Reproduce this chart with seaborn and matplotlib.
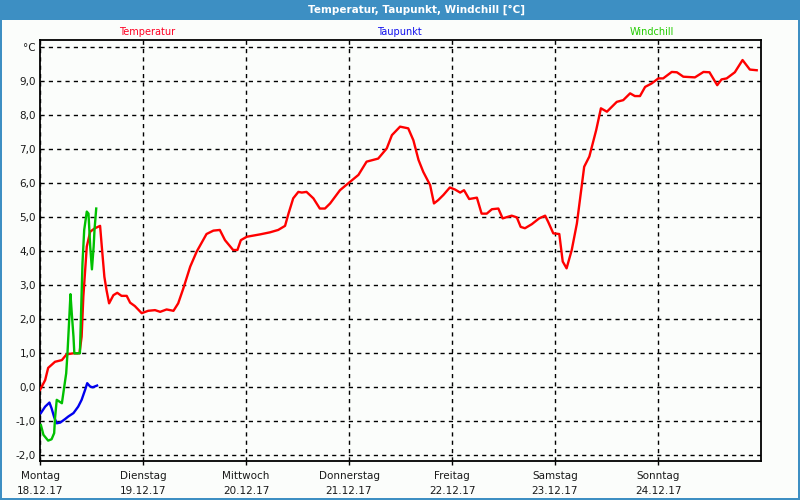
import matplotlib
matplotlib.use("Agg")
import matplotlib.pyplot as plt
from matplotlib.patches import Rectangle
import seaborn as sns
import pandas as pd

# ---- data (hours since Mon 18.12.17 00:00, °C) ----
temp_hours = [0, 1.2, 1.9, 3.5, 5.1, 6.2, 7.8, 9.2, 9.7, 10.1, 10.9, 11.7, 12.8, 14.0, 14.4,
              15.0, 15.5, 16.1, 17.1, 18.0, 19.0, 20.2, 21.0, 22.1, 23.7, 25.2, 26.8, 28.0,
              29.5, 31.1, 32.2, 33.4, 35.0, 36.5, 38.8, 40.4, 41.9, 43.1, 45.0, 46.0, 46.8,
              48.2, 51.3, 53.6, 55.5, 57.1, 57.9, 59.0, 60.2, 61.0, 62.1, 63.7, 65.2, 66.4,
              67.6, 69.9, 71.8, 74.2, 76.1, 78.8, 80.8, 82.0, 83.9, 85.8, 87.0, 88.2, 89.3,
              90.9, 91.8, 92.8, 94.0, 95.5, 96.7, 97.9, 98.8, 100.0, 101.8, 102.9, 104.1,
              105.3, 106.8, 107.8, 109.9, 111.1, 112.0, 113.0, 114.6, 116.3, 117.7, 118.4,
              119.6, 121.0, 121.8, 122.7, 123.9, 125.1, 126.2, 126.8, 128.0, 129.6, 130.7,
              132.1, 134.4, 135.9, 137.5, 138.6, 139.8, 141.0, 142.5, 144.1, 145.2, 147.2,
              148.4, 149.9, 152.6, 154.6, 156.0, 157.8, 158.8, 160.0, 161.9, 163.7, 165.4, 167.0]
temp_values = [-0.09, 0.2, 0.56, 0.74, 0.79, 0.96, 0.99, 0.99, 1.48, 2.66, 4.13, 4.57, 4.67,
               4.74, 4.13, 3.24, 2.85, 2.46, 2.7, 2.77, 2.68, 2.68, 2.48, 2.38, 2.17, 2.24,
               2.26, 2.21, 2.28, 2.24, 2.46, 2.9, 3.54, 3.98, 4.5, 4.6, 4.62, 4.32, 4.03,
               4.03, 4.32, 4.42, 4.49, 4.55, 4.62, 4.74, 5.1, 5.55, 5.74, 5.72, 5.74, 5.55,
               5.25, 5.25, 5.4, 5.79, 5.99, 6.24, 6.63, 6.72, 7.02, 7.41, 7.66, 7.61, 7.26,
               6.68, 6.33, 5.94, 5.4, 5.5, 5.65, 5.87, 5.81, 5.72, 5.79, 5.53, 5.57, 5.1,
               5.1, 5.23, 5.25, 4.96, 5.04, 4.99, 4.71, 4.67, 4.79, 4.96, 5.04, 4.86, 4.52,
               4.5, 3.69, 3.49, 4.03, 4.81, 5.89, 6.48, 6.78, 7.56, 8.2, 8.1, 8.39, 8.44,
               8.64, 8.56, 8.56, 8.83, 8.93, 9.08, 9.08, 9.27, 9.26, 9.13, 9.11, 9.27, 9.26,
               8.88, 9.05, 9.08, 9.26, 9.62, 9.34, 9.32]

dew_hours = [0.2, 1.2, 2.2, 2.7, 3.3, 3.9, 4.7, 5.8, 6.6, 7.8, 8.9, 9.7, 10.5, 11.0, 11.7, 12.3, 13.3]
dew_values = [-0.77, -0.58, -0.46, -0.63, -0.89, -1.07, -1.05, -0.95, -0.87, -0.77, -0.58,
              -0.38, -0.09, 0.11, 0.01, -0.01, 0.04]

chill_hours = [0.2, 0.8, 1.9, 2.7, 3.3, 3.5, 3.9, 5.1, 6.1, 6.4, 6.8, 7.1, 7.4, 7.8, 8.0,
               9.3, 9.5, 9.9, 10.3, 10.9, 11.3, 11.7, 12.1, 12.5, 12.7, 13.1]
chill_values = [-1.12, -1.41, -1.58, -1.54, -1.36, -0.92, -0.38, -0.48, 0.4, 0.99, 1.97,
                2.73, 2.17, 1.48, 0.99, 0.99, 1.87, 3.64, 4.62, 5.16, 5.1, 4.13, 3.46, 4.13,
                4.62, 5.25]

day_names = ["Montag", "Dienstag", "Mittwoch", "Donnerstag", "Freitag", "Samstag", "Sonntag"]
day_dates = ["18.12.17", "19.12.17", "20.12.17", "21.12.17", "22.12.17", "23.12.17", "24.12.17"]
y_ticks = [-2, -1, 0, 1, 2, 3, 4, 5, 6, 7, 8, 9, 10]
y_labels = ["-2,0", "-1,0", "0,0", "1,0", "2,0", "3,0", "4,0", "5,0", "6,0", "7,0", "8,0", "9,0", "°C"]
series_names = ["Temperatur", "Taupunkt", "Windchill"]
series_colors = ["#ff0000", "#0000ee", "#00c000"]
label_colors = ["#ff0022", "#1010ee", "#22cc00"]

plt.rcParams["font.family"] = ["DejaVu Sans"]
plt.rcParams["font.size"] = 7.5

bg = "#fbfdfb"
fig = plt.figure(figsize=(8, 5), dpi=100, facecolor=bg)
ax = fig.add_axes([40 / 800, 39 / 500, 721 / 800, 421 / 500])
ax.set_facecolor(bg)

frames = [
    pd.DataFrame({"day": [h / 24 for h in temp_hours], "val": temp_values}),
    pd.DataFrame({"day": [h / 24 for h in dew_hours], "val": dew_values}),
    pd.DataFrame({"day": [h / 24 for h in chill_hours], "val": chill_values}),
]
for df, c in zip(frames, series_colors):
    sns.lineplot(data=df, x="day", y="val", ax=ax, color=c, linewidth=1.7,
                 estimator=None, sort=False, zorder=3)

ax.set_xlim(0, 7)
ax.set_ylim(-2.18, 10.21)
ax.set_xlabel("")
ax.set_ylabel("")

ax.set_xticks(range(7))
ax.set_xticklabels([f"{n}\n{d}" for n, d in zip(day_names, day_dates)], linespacing=1.6)
ax.set_yticks(y_ticks)
ax.set_yticklabels(y_labels)
ax.tick_params(axis="x", length=3, width=1, pad=4, colors="black", labelcolor="#1a1a1a")
ax.tick_params(axis="y", length=0, pad=3, labelcolor="#1a1a1a")

ax.grid(True, color="black", linestyle=(0, (3, 3)), linewidth=1.0, zorder=1)
for s in ax.spines.values():
    s.set_color("black")
    s.set_linewidth(1.3)

# legend-like labels above the plot
for name, c, xp in zip(series_names, label_colors, [147, 399, 652]):
    fig.text(xp / 800, 1 - 32 / 500, name, color=c, ha="center", va="center", fontsize=7)

# title bar and border
fig.patches.append(Rectangle((0, 1 - 20 / 500), 1, 20 / 500, transform=fig.transFigure,
                             facecolor="#3d8fc3", edgecolor="none", zorder=0))
fig.text(0.52, 1 - 10 / 500, "Temperatur, Taupunkt, Windchill [°C]", color="white",
         ha="center", va="center", fontsize=7.5, fontweight="bold")
fig.patches.append(Rectangle((0, 0), 2 / 800, 1, transform=fig.transFigure,
                             facecolor="#3d8fc3", edgecolor="none"))
fig.patches.append(Rectangle((1 - 2 / 800, 0), 2 / 800, 1, transform=fig.transFigure,
                             facecolor="#3d8fc3", edgecolor="none"))
fig.patches.append(Rectangle((0, 0), 1, 2 / 500, transform=fig.transFigure,
                             facecolor="#3d8fc3", edgecolor="none"))

fig.savefig("out.png", dpi=100, facecolor=bg)
